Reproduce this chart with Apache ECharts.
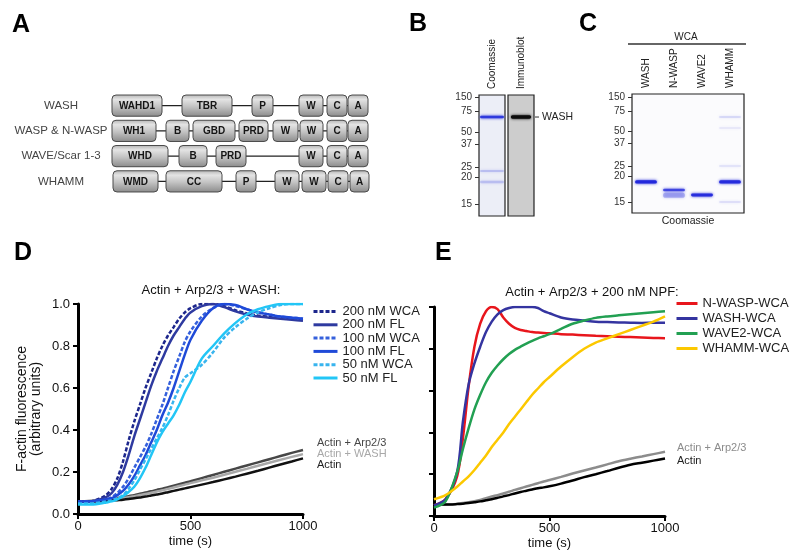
<!DOCTYPE html>
<html><head><meta charset="utf-8">
<script src="https://cdn.jsdelivr.net/npm/echarts@6/dist/echarts.min.js"></script>
<style>html,body{margin:0;padding:0;background:#fff}#c{width:800px;height:557px}</style>
</head><body><div id="c"></div>
<script>
// ---------------- DATA ----------------
// Panel A: domain architecture (start, end, label) in relative sequence units
const domainProteins = ['WASH', 'WASP & N-WASP', 'WAVE/Scar 1-3', 'WHAMM'];
const washDomains  = [[0,50,'WAHD1'],[70,120,'TBR'],[140,161,'P'],[187,211,'W'],[215,235,'C'],[236,256,'A']];
const waspDomains  = [[0,44,'WH1'],[54,77,'B'],[81,123,'GBD'],[127,156,'PRD'],[161,186,'W'],[188,211,'W'],[215,235,'C'],[236,256,'A']];
const waveDomains  = [[0,56,'WHD'],[67,95,'B'],[104,134,'PRD'],[187,211,'W'],[215,235,'C'],[236,256,'A']];
const whammDomains = [[1,46,'WMD'],[54,110,'CC'],[124,144,'P'],[163,187,'W'],[190,214,'W'],[216,236,'C'],[238,257,'A']];

// Panel B: gel (positions as fraction of gel length from top)
const gelBLanes1 = ['Coomassie'];
const gelBLanes2 = ['Immunoblot'];
const gelBMarkerLabels = ['150','75','50','37','25','20','15'];
const gelBMarkerPos = [0.017,0.132,0.306,0.405,0.595,0.678,0.901];
// [lane, position, intensity, spread]
const gelBCoomassieBands = [[0,0.182,0.95,0.022],[0,0.628,0.25,0.010],[0,0.719,0.18,0.020]];
const gelBBlotBands = [[0,0.182,1.0,0.028]];
const gelBBlotBandNames = ['WASH'];

// Panel C: gel
const gelCLanes = ['WASH','N-WASP','WAVE2','WHAMM'];
const gelCMarkerLabels = ['150','75','50','37','25','20','15'];
const gelCMarkerPos = [0.025,0.143,0.311,0.412,0.605,0.689,0.908];
const gelCBands = [[0,0.739,1.0,0.028],[1,0.807,0.75,0.022],[1,0.850,0.28,0.045],[2,0.849,0.95,0.024],
                   [3,0.739,0.95,0.028],[3,0.193,0.15,0.010],[3,0.286,0.08,0.010],[3,0.605,0.10,0.012],[3,0.908,0.12,0.010]];

// Panels D/E: kinetics
const time = [0,50,100,125,150,175,200,225,250,275,300,325,350,375,400,425,450,475,500,550,600,650,700,750,800,850,900,950,1000];
const dWca200 = [0.06,0.06,0.075,0.09,0.12,0.17,0.25,0.35,0.44,0.52,0.60,0.67,0.74,0.80,0.85,0.89,0.93,0.96,0.98,1.0,1.0,0.99,0.97,0.955,0.945,0.94,0.935,0.93,0.925];
const dFl200  = [0.06,0.06,0.07,0.08,0.10,0.14,0.20,0.28,0.37,0.45,0.53,0.61,0.68,0.74,0.80,0.85,0.89,0.93,0.96,0.99,1.0,0.985,0.965,0.95,0.94,0.935,0.93,0.925,0.92];
const dWca100 = [0.06,0.06,0.065,0.07,0.08,0.10,0.13,0.17,0.22,0.27,0.32,0.38,0.45,0.52,0.60,0.68,0.75,0.82,0.87,0.94,0.98,1.0,0.99,0.975,0.96,0.95,0.94,0.935,0.93];
const dFl100  = [0.06,0.06,0.065,0.07,0.075,0.09,0.11,0.14,0.18,0.23,0.28,0.34,0.40,0.47,0.53,0.60,0.68,0.76,0.83,0.92,0.98,1.0,0.995,0.975,0.96,0.95,0.94,0.935,0.93];
const dWca50  = [0.05,0.05,0.055,0.06,0.065,0.075,0.09,0.12,0.16,0.21,0.26,0.31,0.36,0.41,0.47,0.54,0.60,0.65,0.67,0.71,0.77,0.84,0.89,0.93,0.96,0.98,0.995,1.0,1.0];
const dFl50   = [0.045,0.045,0.05,0.055,0.06,0.07,0.085,0.105,0.13,0.17,0.22,0.28,0.34,0.39,0.43,0.47,0.52,0.58,0.63,0.74,0.80,0.86,0.91,0.95,0.975,0.99,1.0,1.0,1.0];
const dArp    = [0.06,0.062,0.066,0.069,0.072,0.076,0.08,0.085,0.09,0.096,0.102,0.108,0.115,0.121,0.128,0.135,0.142,0.149,0.156,0.171,0.186,0.201,0.216,0.231,0.246,0.261,0.276,0.291,0.305];
const dWash   = [0.06,0.061,0.064,0.066,0.069,0.072,0.076,0.08,0.085,0.09,0.095,0.101,0.107,0.113,0.119,0.126,0.133,0.14,0.147,0.16,0.173,0.187,0.201,0.215,0.23,0.244,0.258,0.272,0.285];
const dActin  = [0.06,0.06,0.061,0.062,0.064,0.066,0.068,0.071,0.075,0.079,0.083,0.088,0.093,0.098,0.104,0.11,0.116,0.122,0.128,0.14,0.152,0.165,0.178,0.192,0.206,0.221,0.236,0.25,0.265];

const eNwasp = [0.05,0.08,0.19,0.37,0.62,0.81,0.92,0.98,1.0,0.99,0.95,0.92,0.90,0.89,0.885,0.88,0.878,0.876,0.874,0.87,0.868,0.865,0.862,0.86,0.858,0.856,0.854,0.852,0.85];
const eWash  = [0.05,0.08,0.21,0.45,0.63,0.73,0.81,0.88,0.93,0.965,0.985,0.995,1.0,1.0,1.0,1.0,0.995,0.98,0.97,0.95,0.94,0.935,0.93,0.928,0.926,0.925,0.924,0.925,0.925];
const eWave2 = [0.04,0.07,0.21,0.32,0.42,0.51,0.58,0.64,0.685,0.72,0.75,0.775,0.795,0.81,0.825,0.838,0.85,0.86,0.87,0.895,0.92,0.935,0.948,0.955,0.96,0.965,0.97,0.975,0.98];
const eWhamm = [0.08,0.10,0.14,0.165,0.19,0.22,0.255,0.29,0.33,0.365,0.40,0.44,0.475,0.51,0.545,0.58,0.61,0.64,0.665,0.715,0.76,0.80,0.83,0.85,0.87,0.89,0.91,0.93,0.955];
const eArp   = [0.055,0.055,0.058,0.062,0.066,0.071,0.077,0.085,0.093,0.10,0.108,0.116,0.125,0.133,0.141,0.149,0.157,0.165,0.172,0.187,0.203,0.218,0.232,0.247,0.262,0.274,0.285,0.296,0.307];
const eActin = [0.055,0.055,0.057,0.059,0.062,0.066,0.07,0.075,0.08,0.087,0.094,0.10,0.108,0.115,0.121,0.127,0.133,0.137,0.142,0.155,0.17,0.186,0.20,0.215,0.231,0.245,0.255,0.265,0.275];

// ---------------- BUILD ----------------
const FONT = '"Liberation Sans", Arial, Helvetica, sans-serif';
const pairs = arr => time.map((t, i) => [t, arr[i]]);

const domainRows = [washDomains, waspDomains, waveDomains, whammDomains];
const domainData = [];
const backboneData = [];
domainRows.forEach((row, i) => {
  row.forEach(d => domainData.push([d[0], i, d[1], d[2]]));
  backboneData.push([Math.min(...row.map(d => d[0])), i, Math.max(...row.map(d => d[1]))]);
});

const boxGradient = () => new echarts.graphic.LinearGradient(0, 0, 0, 1, [
  {offset: 0, color: '#b4b4b4'}, {offset: 0.22, color: '#e4e4e4'},
  {offset: 0.55, color: '#c2c2c2'}, {offset: 1, color: '#8a8a8a'}]);

function bandRenderer(color, widthFrac, names) {
  return function (params, api) {
    const c = api.coord([api.value(0), api.value(1)]);
    const bandW = api.size([1, 0])[0];
    const bw = bandW * widthFrac;
    const h = Math.max(1.5, api.size([0, api.value(3)])[1]);
    const children = [{
      type: 'rect',
      shape: {x: c[0] - bw / 2, y: c[1] - h / 2, width: bw, height: h, r: h / 2},
      style: {fill: color, opacity: api.value(2), shadowBlur: 3, shadowColor: color}
    }];
    if (names && names[params.dataIndex]) {
      const xr = c[0] + bandW / 2 + 1;
      children.push({type: 'line', shape: {x1: xr, y1: c[1], x2: xr + 4, y2: c[1]}, style: {stroke: '#333', lineWidth: 1}});
      children.push({type: 'text', style: {text: names[params.dataIndex], x: xr + 7, y: c[1], align: 'left', verticalAlign: 'middle',
        fontSize: 10.5, fontFamily: FONT, fill: '#222'}});
    }
    return {type: 'group', children};
  };
}

function markerFormatter(labels, positions) {
  return function (v) {
    let best = 0, bd = 1e9;
    positions.forEach((p, i) => { const d = Math.abs(p - v); if (d < bd) { bd = d; best = i; } });
    return labels[best];
  };
}

const lineBase = {type: 'line', symbol: 'none', showSymbol: false, smooth: 0.3, xAxisIndex: 4, yAxisIndex: 4};
const dSeries = [
  {name: 'Actin + Arp2/3', data: pairs(dArp), color: '#474747', label: [6, -7]},
  {name: 'Actin + WASH', data: pairs(dWash), color: '#a8a8a8', label: [6, 0]},
  {name: 'Actin', data: pairs(dActin), color: '#111111', label: [6, 7]},
].map(s => Object.assign({}, lineBase, {
  name: s.name, data: s.data, lineStyle: {width: 2.5, color: s.color}, itemStyle: {color: s.color},
  endLabel: {show: true, formatter: '{a}', offset: s.label, fontSize: 11, fontFamily: FONT, color: s.color === '#111111' ? '#222' : s.color}
})).concat([
  {name: '200 nM WCA', data: pairs(dWca200), color: '#1c268c', dash: true},
  {name: '200 nM FL', data: pairs(dFl200), color: '#2e3aa0', dash: false},
  {name: '100 nM WCA', data: pairs(dWca100), color: '#3560dc', dash: true},
  {name: '100 nM FL', data: pairs(dFl100), color: '#1f4ad8', dash: false},
  {name: '50 nM WCA', data: pairs(dWca50), color: '#38b4ee', dash: true},
  {name: '50 nM FL', data: pairs(dFl50), color: '#22c6f6', dash: false},
].map(s => Object.assign({}, lineBase, {
  name: s.name, data: s.data, itemStyle: {color: s.color},
  lineStyle: {width: 2.5, color: s.color, type: s.dash ? [4, 2] : 'solid'}
})));

const eBase = Object.assign({}, lineBase, {xAxisIndex: 5, yAxisIndex: 5});
const eSeries = [
  {name: 'Actin + Arp2/3 ', data: pairs(eArp), color: '#8c8c8c', label: [4, -4], text: 'Actin + Arp2/3'},
  {name: 'Actin ', data: pairs(eActin), color: '#000000', label: [4, 2], text: 'Actin'},
].map(s => Object.assign({}, eBase, {
  name: s.name, data: s.data, lineStyle: {width: 2.5, color: s.color}, itemStyle: {color: s.color},
  endLabel: {show: true, formatter: s.text, offset: s.label, fontSize: 11, fontFamily: FONT, color: s.color === '#000000' ? '#222' : s.color}
})).concat([
  {name: 'N-WASP-WCA', data: pairs(eNwasp), color: '#e8161c'},
  {name: 'WASH-WCA', data: pairs(eWash), color: '#3434a0'},
  {name: 'WAVE2-WCA', data: pairs(eWave2), color: '#22a052'},
  {name: 'WHAMM-WCA', data: pairs(eWhamm), color: '#fcc800'},
].map(s => Object.assign({}, eBase, {
  name: s.name, data: s.data, itemStyle: {color: s.color}, lineStyle: {width: 2.5, color: s.color}
})));

const plotAxisX = (gi) => ({
  gridIndex: gi, type: 'value', min: 0, max: 1000, interval: 500,
  axisLine: {lineStyle: {color: '#000', width: 3}},
  axisTick: {length: 5, lineStyle: {color: '#000', width: 2}},
  axisLabel: {fontSize: 13, color: '#111', fontFamily: FONT, margin: 6, formatter: v => String(v)},
  splitLine: {show: false},
  name: 'time (s)', nameLocation: 'middle', nameGap: 21,
  nameTextStyle: {fontSize: 13, color: '#111', fontFamily: FONT}
});
const plotAxisY = (gi, labels) => ({
  gridIndex: gi, type: 'value', min: 0, max: 1, interval: 0.2,
  axisLine: {show: true, lineStyle: {color: '#000', width: 3}},
  axisTick: {show: true, length: 5, lineStyle: {color: '#000', width: 2}},
  axisLabel: {show: labels, fontSize: 13, color: '#111', fontFamily: FONT, margin: 8, formatter: v => v.toFixed(1)},
  splitLine: {show: false}
});

const gelXAxis = (gi, cats) => ({
  gridIndex: gi, type: 'category', data: cats, position: 'top',
  axisLine: {show: false}, axisTick: {show: false},
  axisLabel: {rotate: 90, margin: 6, fontSize: 10, color: '#222', fontFamily: FONT, interval: 0}
});
const gelYAxis = (gi, labels, pos) => ({
  gridIndex: gi, type: 'value', inverse: true, min: 0, max: 1,
  axisLine: {show: false}, splitLine: {show: false},
  axisTick: {show: !!labels, customValues: pos, length: 4, lineStyle: {color: '#333', width: 1}},
  axisLabel: {show: !!labels, customValues: pos, margin: 7, fontSize: 10, color: '#333', fontFamily: FONT,
    formatter: labels ? markerFormatter(labels, pos) : ''}
});

const option = {
  animation: false,
  backgroundColor: '#fff',
  textStyle: {fontFamily: FONT},
  grid: [
    {left: 112, top: 93, width: 257, height: 101},
    {left: 479, top: 95, width: 26, height: 121, show: true, backgroundColor: '#eceef7', borderColor: '#222', borderWidth: 1.2},
    {left: 508, top: 95, width: 26, height: 121, show: true, backgroundColor: '#cdcdcd', borderColor: '#222', borderWidth: 1.2},
    {left: 632, top: 94, width: 112, height: 119, show: true, backgroundColor: '#fbfbfd', borderColor: '#222', borderWidth: 1.2},
    {left: 78, top: 304, width: 225, height: 210},
    {left: 434, top: 307, width: 231, height: 209}
  ],
  xAxis: [
    {gridIndex: 0, type: 'value', min: 0, max: 257, show: false},
    gelXAxis(1, gelBLanes1), gelXAxis(2, gelBLanes2), gelXAxis(3, gelCLanes),
    plotAxisX(4), plotAxisX(5)
  ],
  yAxis: [
    {gridIndex: 0, type: 'category', data: domainProteins, inverse: true,
     axisLine: {show: false}, axisTick: {show: false},
     axisLabel: {align: 'center', margin: 51, fontSize: 11.5, color: '#444', fontFamily: FONT}},
    gelYAxis(1, gelBMarkerLabels, gelBMarkerPos), gelYAxis(2, null, gelBMarkerPos), gelYAxis(3, gelCMarkerLabels, gelCMarkerPos),
    Object.assign(plotAxisY(4, true), {name: 'F-actin fluorescence\n(arbitrary units)', nameLocation: 'middle', nameGap: 35,
      nameTextStyle: {fontSize: 14, lineHeight: 14, color: '#111', fontFamily: FONT}}),
    plotAxisY(5, false)
  ],
  legend: [
    {data: ['200 nM WCA','200 nM FL','100 nM WCA','100 nM FL','50 nM WCA','50 nM FL'], orient: 'vertical',
     left: 312, top: 305, itemWidth: 24, itemHeight: 13, itemGap: 0.3, padding: 0,
     itemStyle: {opacity: 0, borderWidth: 0}, lineStyle: {width: 3},
     textStyle: {fontSize: 13, lineHeight: 13, color: '#222', fontFamily: FONT}},
    {data: ['N-WASP-WCA','WASH-WCA','WAVE2-WCA','WHAMM-WCA'], orient: 'vertical',
     left: 675, top: 296, itemWidth: 21, itemHeight: 15, itemGap: 0, padding: 0,
     itemStyle: {opacity: 0, borderWidth: 0}, lineStyle: {width: 3},
     textStyle: {fontSize: 13, lineHeight: 15, color: '#222', fontFamily: FONT}}
  ],
  graphic: [
    {type: 'text', left: 12, top: 13, style: {text: 'A', font: 'bold 25px ' + FONT, fill: '#000'}},
    {type: 'text', left: 409, top: 12, style: {text: 'B', font: 'bold 25px ' + FONT, fill: '#000'}},
    {type: 'text', left: 579, top: 12, style: {text: 'C', font: 'bold 25px ' + FONT, fill: '#000'}},
    {type: 'text', left: 14, top: 241, style: {text: 'D', font: 'bold 25px ' + FONT, fill: '#000'}},
    {type: 'text', left: 435, top: 241, style: {text: 'E', font: 'bold 25px ' + FONT, fill: '#000'}},
    {type: 'text', x: 211, y: 290, style: {text: 'Actin + Arp2/3 + WASH:', align: 'center', verticalAlign: 'middle', fontSize: 13, fontFamily: FONT, fill: '#111'}},
    {type: 'text', x: 592, y: 292, style: {text: 'Actin + Arp2/3 + 200 nM NPF:', align: 'center', verticalAlign: 'middle', fontSize: 13, fontFamily: FONT, fill: '#111'}},
    {type: 'text', x: 686, y: 37, style: {text: 'WCA', align: 'center', verticalAlign: 'middle', fontSize: 10, fontFamily: FONT, fill: '#222'}},
    {type: 'line', shape: {x1: 628, y1: 44, x2: 746, y2: 44}, style: {stroke: '#333', lineWidth: 1.5}},
    {type: 'text', x: 688, y: 221, style: {text: 'Coomassie', align: 'center', verticalAlign: 'middle', fontSize: 10.5, fontFamily: FONT, fill: '#222'}}
  ],
  series: [
    {type: 'custom', xAxisIndex: 0, yAxisIndex: 0, data: backboneData, z: 1,
     renderItem: (p, api) => {
       const s = api.coord([api.value(0), api.value(1)]);
       const e = api.coord([api.value(2), api.value(1)]);
       return {type: 'line', shape: {x1: s[0], y1: s[1], x2: e[0], y2: e[1]}, style: {stroke: '#222', lineWidth: 1.2}};
     }},
    {type: 'custom', xAxisIndex: 0, yAxisIndex: 0, data: domainData.map(d => [d[0], d[1], d[2]]), z: 2,
     renderItem: (p, api) => {
       const s = api.coord([api.value(0), api.value(1)]);
       const e = api.coord([api.value(2), api.value(1)]);
       const h = api.size([0, 1])[1] * 0.84;
       return {type: 'group', children: [
         {type: 'rect', shape: {x: s[0], y: s[1] - h / 2, width: e[0] - s[0], height: h, r: 4},
          style: {fill: boxGradient(), stroke: '#4a4a4a', lineWidth: 1}},
         {type: 'text', style: {text: domainData[p.dataIndex][3], x: (s[0] + e[0]) / 2, y: s[1] + 0.5, align: 'center', verticalAlign: 'middle',
          fontSize: 10, fontWeight: 'bold', fontFamily: FONT, fill: '#151515'}}
       ]};
     }},
    {type: 'custom', xAxisIndex: 1, yAxisIndex: 1, data: gelBCoomassieBands, renderItem: bandRenderer('#2a36dc', 0.92, null)},
    {type: 'custom', xAxisIndex: 2, yAxisIndex: 2, data: gelBBlotBands, clip: false, renderItem: bandRenderer('#0c0c0c', 0.78, gelBBlotBandNames)},
    {type: 'custom', xAxisIndex: 3, yAxisIndex: 3, data: gelCBands, renderItem: bandRenderer('#2228dc', 0.78, null)}
  ].concat(dSeries, eSeries)
};

const chart = echarts.init(document.getElementById('c'), null, {renderer: 'canvas', width: 800, height: 557});
chart.setOption(option);
</script>
</body></html>
